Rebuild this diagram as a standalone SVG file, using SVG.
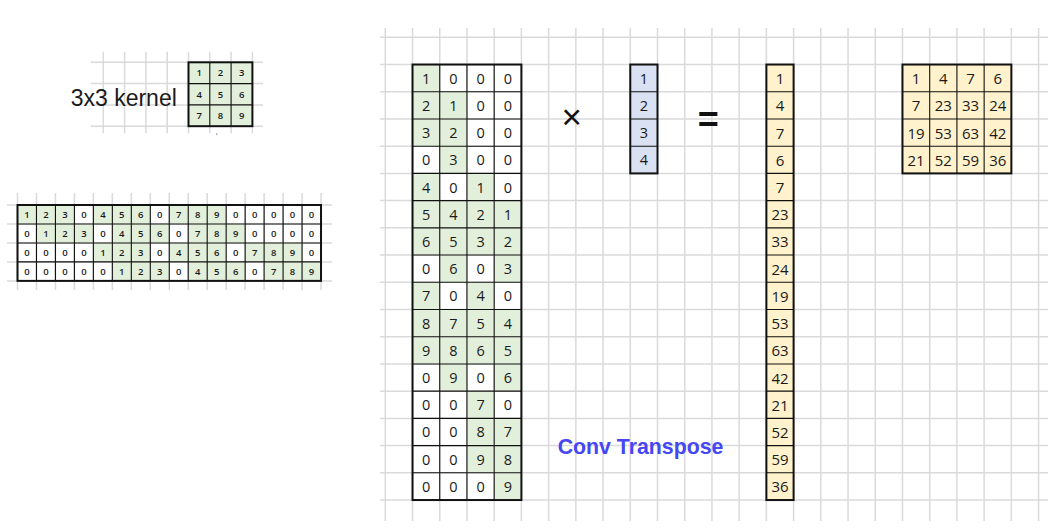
<svg xmlns="http://www.w3.org/2000/svg" width="1048" height="529" viewBox="0 0 1048 529">
<style>
.grid{stroke:#dadada;stroke-width:1.5;fill:none}
.inner{stroke:#111;stroke-width:1.1;fill:none}
.outer{stroke:#111;stroke-width:2;fill:none}
.g{fill:#e2efda}
.b{fill:#d9e1f2}
.y{fill:#fff2cc}
.d{font-family:"Open Sans","Noto Sans",sans-serif;font-size:14.5px;fill:#1a1a1a;text-anchor:middle;dominant-baseline:central}
.dl{font-family:"Open Sans","Noto Sans",sans-serif;font-size:15px;fill:#1a1a1a;text-anchor:middle;dominant-baseline:central}
.ds{font-family:"Open Sans","Noto Sans",sans-serif;font-size:9.5px;font-weight:600;fill:#1a1a1a;text-anchor:middle;dominant-baseline:central}
</style>
<rect width="1048" height="529" fill="#fff"/>

<!-- big background grid -->
<g id="bigGrid" class="grid">
<path d="M385.3 28V521M412.52 28V521M439.74 28V521M466.96 28V521M494.18 28V521M521.4 28V521M548.62 28V521M575.84 28V521M603.06 28V521M630.28 28V521M657.5 28V521M684.72 28V521M711.94 28V521M739.16 28V521M766.38 28V521M793.6 28V521M820.82 28V521M848.04 28V521M875.26 28V521M902.48 28V521M929.7 28V521M956.92 28V521M984.14 28V521M1011.36 28V521M1038.58 28V521"/>
<path d="M380 37.3H1048M380 64.52H1048M380 91.74H1048M380 118.96H1048M380 146.18H1048M380 173.4H1048M380 200.62H1048M380 227.84H1048M380 255.06H1048M380 282.28H1048M380 309.5H1048M380 336.72H1048M380 363.94H1048M380 391.16H1048M380 418.38H1048M380 445.6H1048M380 472.82H1048M380 500.04H1048"/>
</g>

<!-- kernel background grid -->
<g id="kernelGrid" class="grid">
<path d="M103.3 51.7V133.3M124.6 51.7V133.3M145.9 51.7V133.3M167.2 51.7V133.3M188.5 51.7V133.3M209.8 51.7V133.3M231.1 51.7V133.3M252.4 51.7V133.3"/>
<path d="M90.7 62.3H263M90.7 83.6H263M90.7 104.9H263M90.7 126.2H263"/>
</g>

<!-- small matrix background grid -->
<g id="rowGrid" class="grid">
<path d="M17.5 193V290M36.47 193V290M55.44 193V290M74.41 193V290M93.38 193V290M112.35 193V290M131.32 193V290M150.29 193V290M169.26 193V290M188.23 193V290M207.2 193V290M226.17 193V290M245.14 193V290M264.11 193V290M283.08 193V290M302.05 193V290M321.02 193V290"/>
<path d="M7 205H332M7 223.97H332M7 242.94H332M7 261.91H332M7 280.88H332"/>
</g>

<!-- 3x3 kernel -->
<g id="kernelLabel">
<text x="70.7" y="105.7" font-family="Liberation Sans, Arial, sans-serif" font-size="23" fill="#1a1a1a">3x3 kernel</text>
</g>
<g id="kernel" transform="translate(188.5,62.3)">
<rect class="g" width="63.9" height="63.9"/>
<path class="inner" d="M21.3 0V63.9M42.6 0V63.9M0 21.3H63.9M0 42.6H63.9"/>
<rect class="outer" width="63.9" height="63.9"/>
<text class="ds" x="10.65" y="10.65">1</text><text class="ds" x="31.95" y="10.65">2</text><text class="ds" x="53.25" y="10.65">3</text>
<text class="ds" x="10.65" y="31.95">4</text><text class="ds" x="31.95" y="31.95">5</text><text class="ds" x="53.25" y="31.95">6</text>
<text class="ds" x="10.65" y="53.25">7</text><text class="ds" x="31.95" y="53.25">8</text><text class="ds" x="53.25" y="53.25">9</text>
</g>
<path d="M216.6 133.2L217 135.2" stroke="#7f9ab8" stroke-width="1"/>

<!-- 4x16 matrix -->
<g id="rowMatrix" transform="translate(17.5,205)">
<rect class="g" x="0" y="0" width="56.91" height="18.97"/>
<rect class="g" x="75.88" y="0" width="56.91" height="18.97"/>
<rect class="g" x="151.76" y="0" width="56.91" height="18.97"/>
<rect class="g" x="18.97" y="18.97" width="56.91" height="18.97"/>
<rect class="g" x="94.85" y="18.97" width="56.91" height="18.97"/>
<rect class="g" x="170.73" y="18.97" width="56.91" height="18.97"/>
<rect class="g" x="75.88" y="37.94" width="56.91" height="18.97"/>
<rect class="g" x="151.76" y="37.94" width="56.91" height="18.97"/>
<rect class="g" x="227.64" y="37.94" width="56.91" height="18.97"/>
<rect class="g" x="94.85" y="56.91" width="56.91" height="18.97"/>
<rect class="g" x="170.73" y="56.91" width="56.91" height="18.97"/>
<rect class="g" x="246.61" y="56.91" width="56.91" height="18.97"/>
<path class="inner" stroke-width="1" d="M18.97 0V75.88M37.94 0V75.88M56.91 0V75.88M75.88 0V75.88M94.85 0V75.88M113.82 0V75.88M132.79 0V75.88M151.76 0V75.88M170.73 0V75.88M189.7 0V75.88M208.67 0V75.88M227.64 0V75.88M246.61 0V75.88M265.58 0V75.88M284.55 0V75.88M0 18.97H303.52M0 37.94H303.52M0 56.91H303.52"/>
<rect class="outer" width="303.52" height="75.88"/>
<text class="ds" x="9.49" y="9.49">1</text><text class="ds" x="28.46" y="9.49">2</text><text class="ds" x="47.43" y="9.49">3</text><text class="ds" x="66.4" y="9.49">0</text><text class="ds" x="85.37" y="9.49">4</text><text class="ds" x="104.34" y="9.49">5</text><text class="ds" x="123.31" y="9.49">6</text><text class="ds" x="142.28" y="9.49">0</text><text class="ds" x="161.25" y="9.49">7</text><text class="ds" x="180.22" y="9.49">8</text><text class="ds" x="199.19" y="9.49">9</text><text class="ds" x="218.16" y="9.49">0</text><text class="ds" x="237.13" y="9.49">0</text><text class="ds" x="256.1" y="9.49">0</text><text class="ds" x="275.07" y="9.49">0</text><text class="ds" x="294.04" y="9.49">0</text>
<text class="ds" x="9.49" y="28.46">0</text><text class="ds" x="28.46" y="28.46">1</text><text class="ds" x="47.43" y="28.46">2</text><text class="ds" x="66.4" y="28.46">3</text><text class="ds" x="85.37" y="28.46">0</text><text class="ds" x="104.34" y="28.46">4</text><text class="ds" x="123.31" y="28.46">5</text><text class="ds" x="142.28" y="28.46">6</text><text class="ds" x="161.25" y="28.46">0</text><text class="ds" x="180.22" y="28.46">7</text><text class="ds" x="199.19" y="28.46">8</text><text class="ds" x="218.16" y="28.46">9</text><text class="ds" x="237.13" y="28.46">0</text><text class="ds" x="256.1" y="28.46">0</text><text class="ds" x="275.07" y="28.46">0</text><text class="ds" x="294.04" y="28.46">0</text>
<text class="ds" x="9.49" y="47.43">0</text><text class="ds" x="28.46" y="47.43">0</text><text class="ds" x="47.43" y="47.43">0</text><text class="ds" x="66.4" y="47.43">0</text><text class="ds" x="85.37" y="47.43">1</text><text class="ds" x="104.34" y="47.43">2</text><text class="ds" x="123.31" y="47.43">3</text><text class="ds" x="142.28" y="47.43">0</text><text class="ds" x="161.25" y="47.43">4</text><text class="ds" x="180.22" y="47.43">5</text><text class="ds" x="199.19" y="47.43">6</text><text class="ds" x="218.16" y="47.43">0</text><text class="ds" x="237.13" y="47.43">7</text><text class="ds" x="256.1" y="47.43">8</text><text class="ds" x="275.07" y="47.43">9</text><text class="ds" x="294.04" y="47.43">0</text>
<text class="ds" x="9.49" y="66.4">0</text><text class="ds" x="28.46" y="66.4">0</text><text class="ds" x="47.43" y="66.4">0</text><text class="ds" x="66.4" y="66.4">0</text><text class="ds" x="85.37" y="66.4">0</text><text class="ds" x="104.34" y="66.4">1</text><text class="ds" x="123.31" y="66.4">2</text><text class="ds" x="142.28" y="66.4">3</text><text class="ds" x="161.25" y="66.4">0</text><text class="ds" x="180.22" y="66.4">4</text><text class="ds" x="199.19" y="66.4">5</text><text class="ds" x="218.16" y="66.4">6</text><text class="ds" x="237.13" y="66.4">0</text><text class="ds" x="256.1" y="66.4">7</text><text class="ds" x="275.07" y="66.4">8</text><text class="ds" x="294.04" y="66.4">9</text>
</g>

<!-- 16x4 matrix -->
<g id="bigMatrix" transform="translate(412.52,64.52)">
<rect class="g" x="0" y="0" width="27.22" height="81.66"/>
<rect class="g" x="27.22" y="27.22" width="27.22" height="81.66"/>
<rect class="g" x="0" y="108.88" width="27.22" height="81.66"/>
<rect class="g" x="27.22" y="136.1" width="27.22" height="81.66"/>
<rect class="g" x="0" y="217.76" width="27.22" height="81.66"/>
<rect class="g" x="27.22" y="244.98" width="27.22" height="81.66"/>
<rect class="g" x="54.44" y="108.88" width="27.22" height="81.66"/>
<rect class="g" x="81.66" y="136.1" width="27.22" height="81.66"/>
<rect class="g" x="54.44" y="217.76" width="27.22" height="81.66"/>
<rect class="g" x="81.66" y="244.98" width="27.22" height="81.66"/>
<rect class="g" x="54.44" y="326.64" width="27.22" height="81.66"/>
<rect class="g" x="81.66" y="353.86" width="27.22" height="81.66"/>
<path class="inner" d="M27.22 0V435.52M54.44 0V435.52M81.66 0V435.52M0 27.22H108.88M0 54.44H108.88M0 81.66H108.88M0 108.88H108.88M0 136.1H108.88M0 163.32H108.88M0 190.54H108.88M0 217.76H108.88M0 244.98H108.88M0 272.2H108.88M0 299.42H108.88M0 326.64H108.88M0 353.86H108.88M0 381.08H108.88M0 408.3H108.88"/>
<rect class="outer" width="108.88" height="435.52"/>
<text class="d" x="13.61" y="13.61">1</text><text class="d" x="40.83" y="13.61">0</text><text class="d" x="68.05" y="13.61">0</text><text class="d" x="95.27" y="13.61">0</text>
<text class="d" x="13.61" y="40.83">2</text><text class="d" x="40.83" y="40.83">1</text><text class="d" x="68.05" y="40.83">0</text><text class="d" x="95.27" y="40.83">0</text>
<text class="d" x="13.61" y="68.05">3</text><text class="d" x="40.83" y="68.05">2</text><text class="d" x="68.05" y="68.05">0</text><text class="d" x="95.27" y="68.05">0</text>
<text class="d" x="13.61" y="95.27">0</text><text class="d" x="40.83" y="95.27">3</text><text class="d" x="68.05" y="95.27">0</text><text class="d" x="95.27" y="95.27">0</text>
<text class="d" x="13.61" y="122.49">4</text><text class="d" x="40.83" y="122.49">0</text><text class="d" x="68.05" y="122.49">1</text><text class="d" x="95.27" y="122.49">0</text>
<text class="d" x="13.61" y="149.71">5</text><text class="d" x="40.83" y="149.71">4</text><text class="d" x="68.05" y="149.71">2</text><text class="d" x="95.27" y="149.71">1</text>
<text class="d" x="13.61" y="176.93">6</text><text class="d" x="40.83" y="176.93">5</text><text class="d" x="68.05" y="176.93">3</text><text class="d" x="95.27" y="176.93">2</text>
<text class="d" x="13.61" y="204.15">0</text><text class="d" x="40.83" y="204.15">6</text><text class="d" x="68.05" y="204.15">0</text><text class="d" x="95.27" y="204.15">3</text>
<text class="d" x="13.61" y="231.37">7</text><text class="d" x="40.83" y="231.37">0</text><text class="d" x="68.05" y="231.37">4</text><text class="d" x="95.27" y="231.37">0</text>
<text class="d" x="13.61" y="258.59">8</text><text class="d" x="40.83" y="258.59">7</text><text class="d" x="68.05" y="258.59">5</text><text class="d" x="95.27" y="258.59">4</text>
<text class="d" x="13.61" y="285.81">9</text><text class="d" x="40.83" y="285.81">8</text><text class="d" x="68.05" y="285.81">6</text><text class="d" x="95.27" y="285.81">5</text>
<text class="d" x="13.61" y="313.03">0</text><text class="d" x="40.83" y="313.03">9</text><text class="d" x="68.05" y="313.03">0</text><text class="d" x="95.27" y="313.03">6</text>
<text class="d" x="13.61" y="340.25">0</text><text class="d" x="40.83" y="340.25">0</text><text class="d" x="68.05" y="340.25">7</text><text class="d" x="95.27" y="340.25">0</text>
<text class="d" x="13.61" y="367.47">0</text><text class="d" x="40.83" y="367.47">0</text><text class="d" x="68.05" y="367.47">8</text><text class="d" x="95.27" y="367.47">7</text>
<text class="d" x="13.61" y="394.69">0</text><text class="d" x="40.83" y="394.69">0</text><text class="d" x="68.05" y="394.69">9</text><text class="d" x="95.27" y="394.69">8</text>
<text class="d" x="13.61" y="421.91">0</text><text class="d" x="40.83" y="421.91">0</text><text class="d" x="68.05" y="421.91">0</text><text class="d" x="95.27" y="421.91">9</text>
</g>

<!-- operators -->
<g id="times"><text x="571.7" y="129" font-family="Liberation Sans, Arial, sans-serif" font-size="35" fill="#111" text-anchor="middle">×</text></g>
<g id="equals"><text x="708.3" y="131.5" font-family="Liberation Sans, Arial, sans-serif" font-size="36" font-weight="bold" fill="#111" text-anchor="middle">=</text></g>

<!-- input vector -->
<g id="inputVector" transform="translate(630.28,64.52)">
<rect class="b" width="27.22" height="108.88"/>
<path class="inner" d="M0 27.22H27.22M0 54.44H27.22M0 81.66H27.22"/>
<rect class="outer" width="27.22" height="108.88"/>
<text class="d" x="13.61" y="13.61">1</text>
<text class="d" x="13.61" y="40.83">2</text>
<text class="d" x="13.61" y="68.05">3</text>
<text class="d" x="13.61" y="95.27">4</text>
</g>

<!-- result column -->
<g id="resultColumn" transform="translate(766.38,64.52)">
<rect class="y" width="27.22" height="435.52"/>
<path class="inner" d="M0 27.22H27.22M0 54.44H27.22M0 81.66H27.22M0 108.88H27.22M0 136.1H27.22M0 163.32H27.22M0 190.54H27.22M0 217.76H27.22M0 244.98H27.22M0 272.2H27.22M0 299.42H27.22M0 326.64H27.22M0 353.86H27.22M0 381.08H27.22M0 408.3H27.22"/>
<rect class="outer" width="27.22" height="435.52"/>
<text class="dl" x="13.61" y="13.61">1</text>
<text class="dl" x="13.61" y="40.83">4</text>
<text class="dl" x="13.61" y="68.05">7</text>
<text class="dl" x="13.61" y="95.27">6</text>
<text class="dl" x="13.61" y="122.49">7</text>
<text class="dl" x="13.61" y="149.71">23</text>
<text class="dl" x="13.61" y="176.93">33</text>
<text class="dl" x="13.61" y="204.15">24</text>
<text class="dl" x="13.61" y="231.37">19</text>
<text class="dl" x="13.61" y="258.59">53</text>
<text class="dl" x="13.61" y="285.81">63</text>
<text class="dl" x="13.61" y="313.03">42</text>
<text class="dl" x="13.61" y="340.25">21</text>
<text class="dl" x="13.61" y="367.47">52</text>
<text class="dl" x="13.61" y="394.69">59</text>
<text class="dl" x="13.61" y="421.91">36</text>
</g>

<!-- output 4x4 -->
<g id="outputMatrix" transform="translate(902.48,64.52)">
<rect class="y" width="108.88" height="108.88"/>
<path class="inner" d="M27.22 0V108.88M54.44 0V108.88M81.66 0V108.88M0 27.22H108.88M0 54.44H108.88M0 81.66H108.88"/>
<rect class="outer" width="108.88" height="108.88"/>
<text class="dl" x="13.61" y="13.61">1</text><text class="dl" x="40.83" y="13.61">4</text><text class="dl" x="68.05" y="13.61">7</text><text class="dl" x="95.27" y="13.61">6</text>
<text class="dl" x="13.61" y="40.83">7</text><text class="dl" x="40.83" y="40.83">23</text><text class="dl" x="68.05" y="40.83">33</text><text class="dl" x="95.27" y="40.83">24</text>
<text class="dl" x="13.61" y="68.05">19</text><text class="dl" x="40.83" y="68.05">53</text><text class="dl" x="68.05" y="68.05">63</text><text class="dl" x="95.27" y="68.05">42</text>
<text class="dl" x="13.61" y="95.27">21</text><text class="dl" x="40.83" y="95.27">52</text><text class="dl" x="68.05" y="95.27">59</text><text class="dl" x="95.27" y="95.27">36</text>
</g>

<g id="title"><text x="557.7" y="454" font-family="Liberation Sans, Arial, sans-serif" font-size="21.3" font-weight="bold" fill="#4646f2">Conv Transpose</text></g>
</svg>
